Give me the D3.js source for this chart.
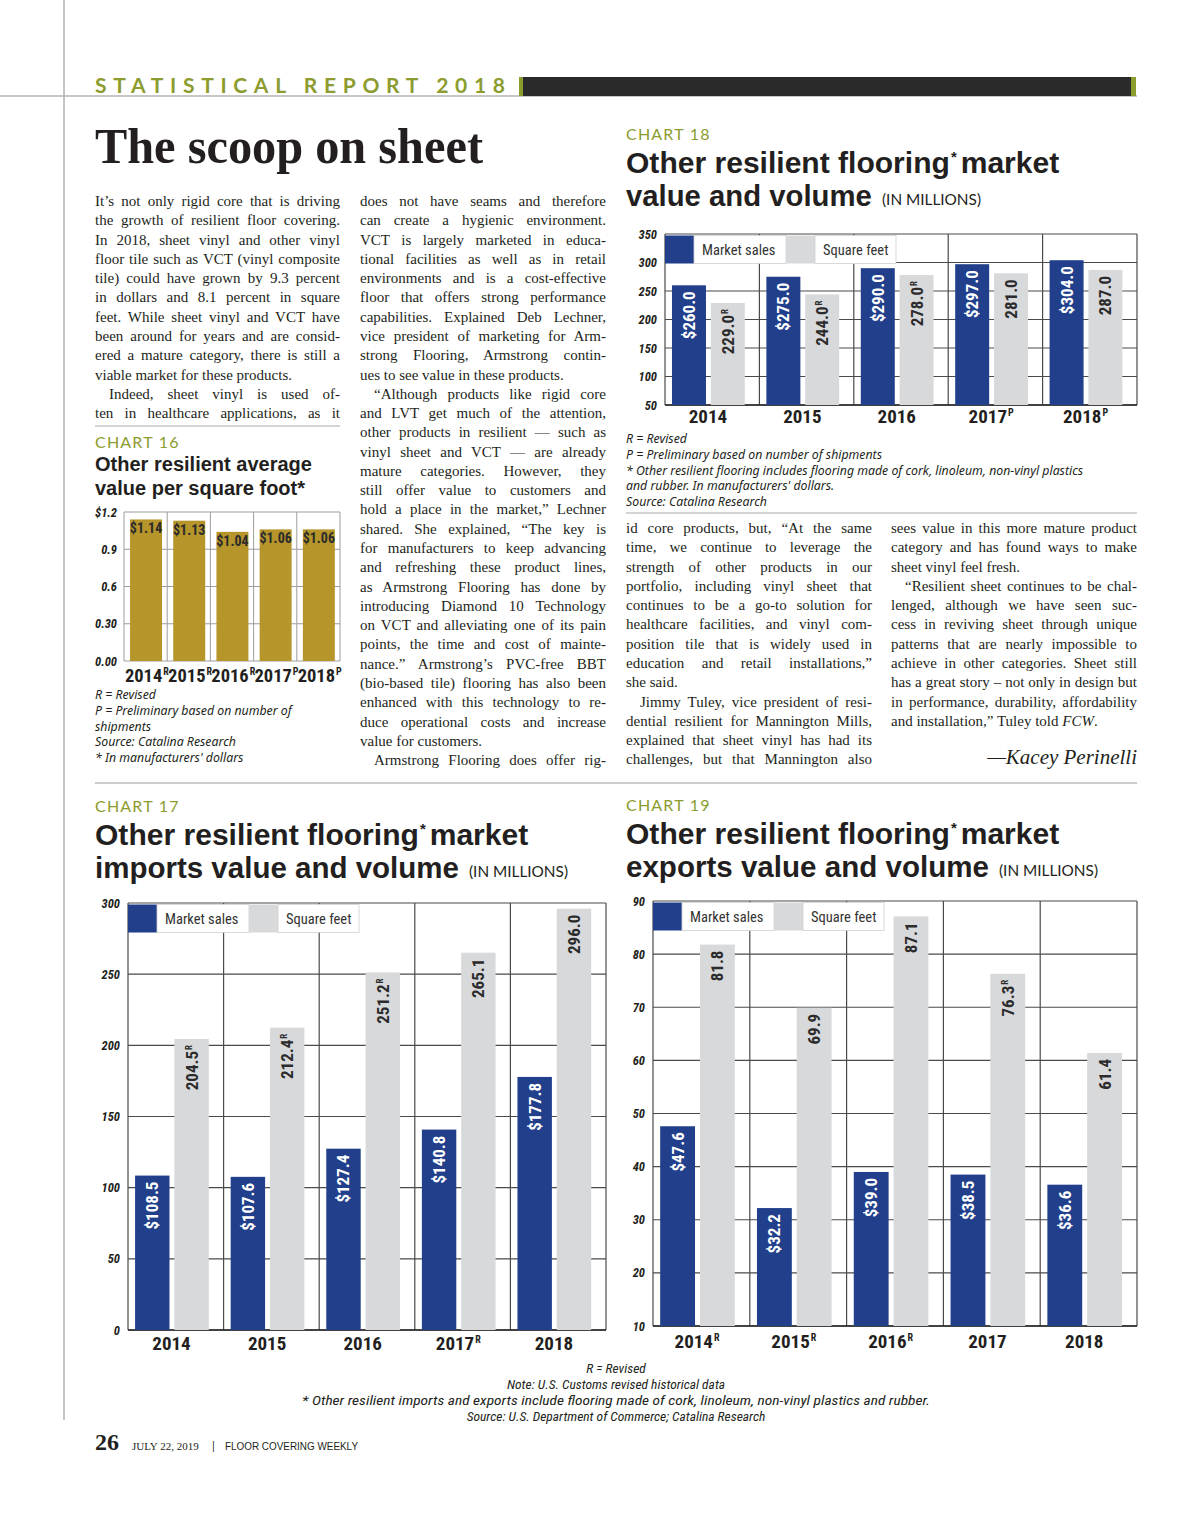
<!DOCTYPE html>
<html><head><meta charset="utf-8">
<script src="https://cdn.jsdelivr.net/npm/d3@7"></script>
<style>
body{margin:0;background:#fff;}
svg{display:block;}
</style></head><body>
<svg id="page" width="1200" height="1516"></svg>
<script>
// ---------------- DATA ----------------
const years = ["2014","2015","2016","2017","2018"];

// Chart 16: average value per square foot
const c16Values = [1.14, 1.13, 1.04, 1.06, 1.06];
const c16YearSup = ["R","R","R","P","P"];
const c16Ticks = [0, 0.3, 0.6, 0.9, 1.2];
const c16TickLabels = ["0.00","0.30","0.6","0.9","$1.2"];

// Chart 18: market value and volume
const c18Sales = [260.0, 275.0, 290.0, 297.0, 304.0];
const c18Sqft = [229.0, 244.0, 278.0, 281.0, 287.0];
const c18SqftSup = ["R","R","R","",""];
const c18YearSup = ["","","","P","P"];
const c18Ticks = [50,100,150,200,250,300,350];

// Chart 17: imports value and volume
const c17Sales = [108.5, 107.6, 127.4, 140.8, 177.8];
const c17Sqft = [204.5, 212.4, 251.2, 265.1, 296.0];
const c17SqftSup = ["R","R","R","",""];
const c17YearSup = ["","","","R",""];
const c17Ticks = [0,50,100,150,200,250,300];

// Chart 19: exports value and volume
const c19Sales = [47.6, 32.2, 39.0, 38.5, 36.6];
const c19Sqft = [81.8, 69.9, 87.1, 76.3, 61.4];
const c19SqftSup = ["","","","R",""];
const c19YearSup = ["R","R","R","",""];
const c19Ticks = [10,20,30,40,50,60,70,80,90];

const legendLabels = ["Market sales","Square feet"];

// ---------------- TEXT ----------------
// ">" = paragraph indent, "¶" = last line of paragraph (not justified), _x_ = italic
const col1 = [
"It’s not only rigid core that is driving",
"the growth of resilient floor covering.",
"In 2018, sheet vinyl and other vinyl",
"floor tile such as VCT (vinyl composite",
"tile) could have grown by 9.3 percent",
"in dollars and 8.1 percent in square",
"feet. While sheet vinyl and VCT have",
"been around for years and are consid-",
"ered a mature category, there is still a",
"viable market for these products.¶",
">Indeed, sheet vinyl is used of-",
"ten in healthcare applications, as it"];
const col2 = [
"does not have seams and therefore",
"can create a hygienic environment.",
"VCT is largely marketed in educa-",
"tional facilities as well as in retail",
"environments and is a cost-effective",
"floor that offers strong performance",
"capabilities. Explained Deb Lechner,",
"vice president of marketing for Arm-",
"strong Flooring, Armstrong contin-",
"ues to see value in these products.¶",
">“Although products like rigid core",
"and LVT get much of the attention,",
"other products in resilient — such as",
"vinyl sheet and VCT — are already",
"mature categories. However, they",
"still offer value to customers and",
"hold a place in the market,” Lechner",
"shared. She explained, “The key is",
"for manufacturers to keep advancing",
"and refreshing these product lines,",
"as Armstrong Flooring has done by",
"introducing Diamond 10 Technology",
"on VCT and alleviating one of its pain",
"points, the time and cost of mainte-",
"nance.” Armstrong’s PVC-free BBT",
"(bio-based tile) flooring has also been",
"enhanced with this technology to re-",
"duce operational costs and increase",
"value for customers.¶",
">Armstrong Flooring does offer rig-"];
const col3 = [
"id core products, but, “At the same",
"time, we continue to leverage the",
"strength of other products in our",
"portfolio, including vinyl sheet that",
"continues to be a go-to solution for",
"healthcare facilities, and vinyl com-",
"position tile that is widely used in",
"education and retail installations,”",
"she said.¶",
">Jimmy Tuley, vice president of resi-",
"dential resilient for Mannington Mills,",
"explained that sheet vinyl has had its",
"challenges, but that Mannington also"];
const col4 = [
"sees value in this more mature product",
"category and has found ways to make",
"sheet vinyl feel fresh.¶",
">“Resilient sheet continues to be chal-",
"lenged, although we have seen suc-",
"cess in reviving sheet through unique",
"patterns that are nearly impossible to",
"achieve in other categories. Sheet still",
"has a great story – not only in design but",
"in performance, durability, affordability",
"and installation,” Tuley told _FCW_.¶"];

// ---------------- STYLE ----------------
const GREEN="#8c9c2e", BLUE="#213f8b", GRAYBAR="#d8d9db", GOLD="#b6952a", INK="#231f20";
const COND="'Roboto Condensed','Liberation Sans Narrow','DejaVu Sans Condensed','Arial Narrow',sans-serif";
const SANS="'Lato','Noto Sans',sans-serif";
const NOTE="'Noto Sans','Open Sans',sans-serif";
const HEAD="'Liberation Sans','Arimo',Arial,sans-serif";
const SERIF="'Liberation Serif','DejaVu Serif',serif";

const svg = d3.select("#page");

function draw(){
  // page frame
  svg.append("line").attr("x1",64).attr("x2",64).attr("y1",0).attr("y2",1420).attr("stroke","#8a8a8a").attr("stroke-width",1);
  svg.append("line").attr("x1",0).attr("x2",1137).attr("y1",96).attr("y2",96).attr("stroke","#b5b5b5").attr("stroke-width",1.5);
  svg.append("text").attr("x",95).attr("y",93).text("STATISTICAL REPORT 2018")
    .style("font-family",SANS).style("font-weight",700).style("font-size","21px").style("fill",GREEN)
    .attr("textLength",410).attr("lengthAdjust","spacing");
  svg.append("rect").attr("x",519).attr("y",77).attr("width",617).attr("height",19).attr("fill",GREEN);
  svg.append("rect").attr("x",523).attr("y",77).attr("width",608).attr("height",19).attr("fill","#2a2a2a");

  svg.append("text").attr("x",95).attr("y",163).text("The scoop on sheet")
    .style("font-family",SERIF).style("font-weight",700).style("font-size","50px").style("fill",INK)
    .attr("textLength",388).attr("lengthAdjust","spacingAndGlyphs");

  // body columns
  const step = 19.28;
  drawColumn(col1, 95, 206, 245, step);
  drawColumn(col2, 360, 206, 246, step);
  drawColumn(col3, 626, 533, 246, step);
  drawColumn(col4, 891, 533, 246, step);
  svg.append("text").attr("x",1137).attr("y",764).attr("text-anchor","end").text("—Kacey Perinelli")
    .style("font-family",SERIF).style("font-style","italic").style("font-size","21px").style("fill",INK);

  // separators
  svg.append("line").attr("x1",95).attr("x2",340).attr("y1",426).attr("y2",426).attr("stroke","#aaa");
  svg.append("line").attr("x1",626).attr("x2",1137).attr("y1",513).attr("y2",513).attr("stroke","#aaa");
  svg.append("line").attr("x1",95).attr("x2",1137).attr("y1",783).attr("y2",783).attr("stroke","#bbb").attr("stroke-width",1.5);

  // ---------- Chart 16 ----------
  chartHead(95, 448, "CHART 16");
  titleLine(95, 471, "Other resilient average", 217, 20);
  titleLine(95, 494.5, "value per square foot*", 210, 20);
  chart16();
  footnotes(95, 699, ["R = Revised","P = Preliminary based on number of","shipments","Source: Catalina Research","* In manufacturers' dollars"], 15.8);

  // ---------- Chart 18 ----------
  chartHead(626, 140, "CHART 18");
  bigTitle(626, 173, 206, "value and volume", 1065, 882);
  grouped({x0:665, x1:1137, yT:234, yB:405, domain:[50,350], ticks:c18Ticks,
    sales:c18Sales, sqft:c18Sqft, sqftSup:c18SqftSup, yearSup:c18YearSup, xLabelY:423});
  footnotes(626, 443, ["R = Revised","P = Preliminary based on number of shipments",
    "* Other resilient flooring includes flooring made of cork, linoleum, non-vinyl plastics",
    "and rubber. In manufacturers' dollars.","Source: Catalina Research"], 15.8);

  // ---------- Chart 17 ----------
  chartHead(95, 812, "CHART 17");
  bigTitle(95, 845, 878, "imports value and volume", 534, 469);
  grouped({x0:128, x1:606, yT:903, yB:1330, domain:[0,300], ticks:c17Ticks,
    sales:c17Sales, sqft:c17Sqft, sqftSup:c17SqftSup, yearSup:c17YearSup, xLabelY:1350});

  // ---------- Chart 19 ----------
  chartHead(626, 811, "CHART 19");
  bigTitle(626, 844, 877, "exports value and volume", 1065, 999);
  grouped({x0:653, x1:1137, yT:901, yB:1326, domain:[10,90], ticks:c19Ticks,
    sales:c19Sales, sqft:c19Sqft, sqftSup:c19SqftSup, yearSup:c19YearSup, xLabelY:1348});

  // bottom notes
  const notes = ["R = Revised","Note: U.S. Customs revised historical data",
    "* Other resilient imports and exports include flooring made of cork, linoleum, non-vinyl plastics and rubber.",
    "Source: U.S. Department of Commerce; Catalina Research"];
  notes.forEach((n,i)=>{
    const t = svg.append("text").attr("x",616).attr("y",1373+i*16).attr("text-anchor","middle").text(n)
      .style("font-family",COND).style("font-style","italic").style("font-size","13.5px").style("fill",INK);
    if (i===2) t.attr("textLength",628).attr("lengthAdjust","spacingAndGlyphs");
  });

  // footer
  svg.append("text").attr("x",95).attr("y",1450).text("26")
    .style("font-family",SERIF).style("font-weight",700).style("font-size","24px").style("fill",INK);
  svg.append("text").attr("x",132).attr("y",1450).text("JULY 22, 2019")
    .style("font-family",SERIF).style("font-size","11px").style("fill",INK);
  svg.append("text").attr("x",212).attr("y",1450).text("|")
    .style("font-family",SANS).style("font-size","11px").style("fill",INK);
  svg.append("text").attr("x",225).attr("y",1450).text("FLOOR COVERING WEEKLY")
    .style("font-family",HEAD).style("font-size","10px").style("fill",INK)
    .attr("textLength",133).attr("lengthAdjust","spacingAndGlyphs");
}

function drawColumn(lines, x, y0, width, step){
  const g = svg.append("g");
  lines.forEach((raw,i)=>{
    let s = raw, indent = 0, justify = true;
    if (s.startsWith(">")) { s = s.slice(1); indent = 14; }
    if (s.endsWith("¶")) { s = s.slice(0,-1); justify = false; }
    const t = g.append("text").attr("x", x+indent).attr("y", y0 + i*step)
      .style("font-family",SERIF).style("font-size","15px").style("fill",INK);
    s.split("_").forEach((p,k)=>{ t.append("tspan").text(p).style("font-style", k%2 ? "italic" : null); });
    const w = t.node().getComputedTextLength();
    const avail = width - indent;
    const gaps = (s.match(/ /g)||[]).length;
    if (justify && w < avail && gaps>0) {
      t.style("word-spacing", ((avail - w)/gaps).toFixed(2)+"px");
    } else if (w > avail) {
      t.attr("textLength", avail).attr("lengthAdjust","spacingAndGlyphs");
    }
  });
}

function chartHead(x, y, label){
  svg.append("text").attr("x",x).attr("y",y).text(label)
    .style("font-family",SANS).style("font-size","16px").style("fill",GREEN).style("letter-spacing","1.2px");
}
function titleLine(x, y, str, w, size){
  svg.append("text").attr("x",x).attr("y",y).text(str)
    .style("font-family",HEAD).style("font-weight",700).style("font-size",size+"px").style("fill",INK)
    .attr("textLength",w).attr("lengthAdjust","spacingAndGlyphs");
}
// text with a separate superscript text element placed right after it
function withSup(parent, x, y, main, sup, anchor, fontStyle, supSize, supRise){
  const g = parent.append("g");
  const t = g.append("text").attr("y",y).text(main);
  fontStyle(t);
  const mw = t.node().getComputedTextLength();
  let sw = 0, s = null;
  if (sup) {
    s = g.append("text").attr("y",y - supRise).text(sup);
    fontStyle(s);
    s.style("font-size", supSize+"px");
    sw = s.node().getComputedTextLength() + 1;
  }
  const total = mw + sw;
  const start = anchor==="middle" ? x - total/2 : anchor==="end" ? x - total : x;
  t.attr("x", start);
  if (s) s.attr("x", start + mw + 1);
  return g;
}
function bigTitle(x, y1, y2, line2, x1end, unitX){
  const st = sel => sel.style("font-family",HEAD).style("font-weight",700).style("fill",INK);
  const probe = st(svg.append("text").style("font-size","30px").text("Other resilient flooring market"));
  const nat = probe.node().getComputedTextLength(); probe.remove();
  const fs = 30 * (x1end - x - 8) / nat;
  const a = st(svg.append("text").attr("x",x).attr("y",y1).style("font-size",fs+"px").text("Other resilient flooring"));
  const aw = a.node().getComputedTextLength();
  st(svg.append("text").attr("x",x+aw+1).attr("y",y1-11).style("font-size","15px").text("*"));
  st(svg.append("text").attr("x",x+aw+fs*0.36).attr("y",y1).style("font-size",fs+"px").text("market"));
  const p2 = st(svg.append("text").style("font-size","30px").text(line2));
  const n2 = p2.node().getComputedTextLength(); p2.remove();
  st(svg.append("text").attr("x",x).attr("y",y2).style("font-size",Math.min(fs*1.04, 30*(unitX-10-x)/n2)+"px").text(line2));
  svg.append("text").attr("x",unitX).attr("y",y2-1).text("(IN MILLIONS)")
    .style("font-family",SANS).style("font-size","15px").style("fill",INK)
    .attr("textLength",99).attr("lengthAdjust","spacingAndGlyphs");
}
function footnotes(x, y, arr, step){
  arr.forEach((s,i)=>{
    svg.append("text").attr("x",x).attr("y",y+i*step).text(s)
      .style("font-family",NOTE).style("font-style","italic").style("font-size","12.3px").style("fill",INK);
  });
}

function chart16(){
  const x0=124, x1=340, yT=512, yB=661;
  const g = svg.append("g");
  const x = d3.scaleBand().domain(years).range([x0,x1]);
  const y = d3.scaleLinear().domain([0,1.2]).range([yB,yT]);
  const bw = x.bandwidth();
  g.selectAll(".hg").data(c16Ticks).join("line")
    .attr("x1",x0).attr("x2",x1).attr("y1",d=>y(d)).attr("y2",d=>y(d)).attr("stroke","#9d9d9d").attr("stroke-width",1);
  g.selectAll(".vg").data(years).join("line")
    .attr("x1",d=>x(d)).attr("x2",d=>x(d)).attr("y1",yT).attr("y2",yB).attr("stroke","#9d9d9d");
  g.append("line").attr("x1",x1).attr("x2",x1).attr("y1",yT).attr("y2",yB).attr("stroke","#9d9d9d");
  g.selectAll(".bar").data(c16Values).join("rect")
    .attr("x",(d,i)=>x(years[i])+bw*0.14).attr("width",bw*0.74)
    .attr("y",d=>y(d)).attr("height",d=>yB-y(d)).attr("fill",GOLD);
  g.selectAll(".val").data(c16Values).join("text")
    .attr("x",(d,i)=>x(years[i])+bw*0.51).attr("y",d=>y(d)+14)
    .attr("text-anchor","middle").text(d=>"$"+d.toFixed(2))
    .style("font-family",COND).style("font-weight",700).style("font-size","14px").style("fill","#2b2b2b");
  const ax = g.append("g").attr("transform",`translate(${x0},0)`)
    .call(d3.axisLeft(y).tickValues(c16Ticks).tickFormat((d,i)=>c16TickLabels[i]).tickSize(0).tickPadding(7));
  ax.select(".domain").remove();
  ax.selectAll("text").style("font-family",COND).style("font-weight",700).style("font-style","italic")
    .style("font-size","12.5px").style("fill",INK);
  const bx = g.append("g").attr("transform",`translate(0,${yB})`)
    .call(d3.axisBottom(x).tickSize(0).tickFormat(""));
  bx.select(".domain").remove();
  const lab = sel => sel.style("font-family",COND).style("font-weight",700).style("font-size","18.5px").style("fill",INK);
  years.forEach((yr,i)=>{
    withSup(g, x(yr)+bw*0.53, yB+21, yr, c16YearSup[i], "middle", lab, 10, 7);
  });
}

function grouped(o){
  const g = svg.append("g");
  const x = d3.scaleBand().domain(years).range([o.x0,o.x1]);
  const y = d3.scaleLinear().domain(o.domain).range([o.yB,o.yT]);
  const bw = x.bandwidth();
  const GRID="#4a4a4a";
  g.selectAll(".hg").data(o.ticks).join("line")
    .attr("x1",o.x0).attr("x2",o.x1).attr("y1",d=>y(d)).attr("y2",d=>y(d))
    .attr("stroke",GRID).attr("stroke-width",1.2);
  g.selectAll(".vg").data(years).join("line")
    .attr("x1",d=>x(d)).attr("x2",d=>x(d)).attr("y1",o.yT).attr("y2",o.yB)
    .attr("stroke",GRID).attr("stroke-width",1.2);
  g.append("line").attr("x1",o.x1).attr("x2",o.x1).attr("y1",o.yT).attr("y2",o.yB).attr("stroke",GRID).attr("stroke-width",1.2);
  g.append("line").attr("x1",o.x0).attr("x2",o.x1).attr("y1",o.yB).attr("y2",o.yB).attr("stroke","#222").attr("stroke-width",1.5);

  const base = y(o.domain[0]);
  const bxBlue = i => x(years[i]) + bw*0.074;
  const bxGray = i => x(years[i]) + bw*0.485;
  const barW = bw*0.36;
  g.selectAll(".sb").data(o.sales).join("rect")
    .attr("x",(d,i)=>bxBlue(i)).attr("width",barW).attr("y",d=>y(d)).attr("height",d=>base-y(d)).attr("fill",BLUE);
  g.selectAll(".qb").data(o.sqft).join("rect")
    .attr("x",(d,i)=>bxGray(i)).attr("width",barW).attr("y",d=>y(d)).attr("height",d=>base-y(d)).attr("fill",GRAYBAR);

  const valStyle = col => sel => sel.style("font-family",COND).style("font-weight",700).style("font-size","17px").style("fill",col);
  o.sales.forEach((d,i)=>{
    const rg = g.append("g").attr("transform",`translate(${bxBlue(i)+barW/2},${y(d)+6}) rotate(-90)`);
    withSup(rg, 0, 6, "$"+d.toFixed(1), "", "end", valStyle("#fff"), 9, 6);
  });
  o.sqft.forEach((d,i)=>{
    const rg = g.append("g").attr("transform",`translate(${bxGray(i)+barW/2},${y(d)+6}) rotate(-90)`);
    withSup(rg, 0, 6, d.toFixed(1), o.sqftSup[i], "end", valStyle("#2b2b2b"), 9, 6);
  });

  // legend
  const lg = g.append("g").attr("transform",`translate(${o.x0},${o.yT+1.5})`);
  const lh = 28;
  lg.append("rect").attr("x",0).attr("y",0).attr("width",29).attr("height",lh).attr("fill",BLUE);
  lg.append("rect").attr("x",29).attr("y",0).attr("width",92).attr("height",lh).attr("fill","#fff").attr("stroke","#d0d0d0").attr("stroke-width",0.8);
  lg.append("rect").attr("x",121).attr("y",0).attr("width",29).attr("height",lh).attr("fill",GRAYBAR);
  lg.append("rect").attr("x",150).attr("y",0).attr("width",81).attr("height",lh).attr("fill","#fff").attr("stroke","#d0d0d0").attr("stroke-width",0.8);
  lg.selectAll(".lt").data(legendLabels).join("text")
    .attr("x",(d,i)=>i===0?37:158).attr("y",lh/2+5).text(d=>d)
    .style("font-family",COND).style("font-size","14.5px").style("fill","#333");

  const ax = g.append("g").attr("transform",`translate(${o.x0},0)`)
    .call(d3.axisLeft(y).tickValues(o.ticks).tickFormat(d3.format("d")).tickSize(0).tickPadding(8));
  ax.select(".domain").remove();
  ax.selectAll("text").style("font-family",COND).style("font-weight",700).style("font-style","italic")
    .style("font-size","12.5px").style("fill",INK);
  const lab = sel => sel.style("font-family",COND).style("font-weight",700).style("font-size","19px").style("fill",INK);
  years.forEach((yr,i)=>{
    withSup(g, x(yr)+bw*0.455, o.xLabelY, yr, o.yearSup[i], "middle", lab, 10, 7);
  });
}

(document.fonts && document.fonts.ready ? document.fonts.ready : Promise.resolve()).then(draw);
</script></body></html>
